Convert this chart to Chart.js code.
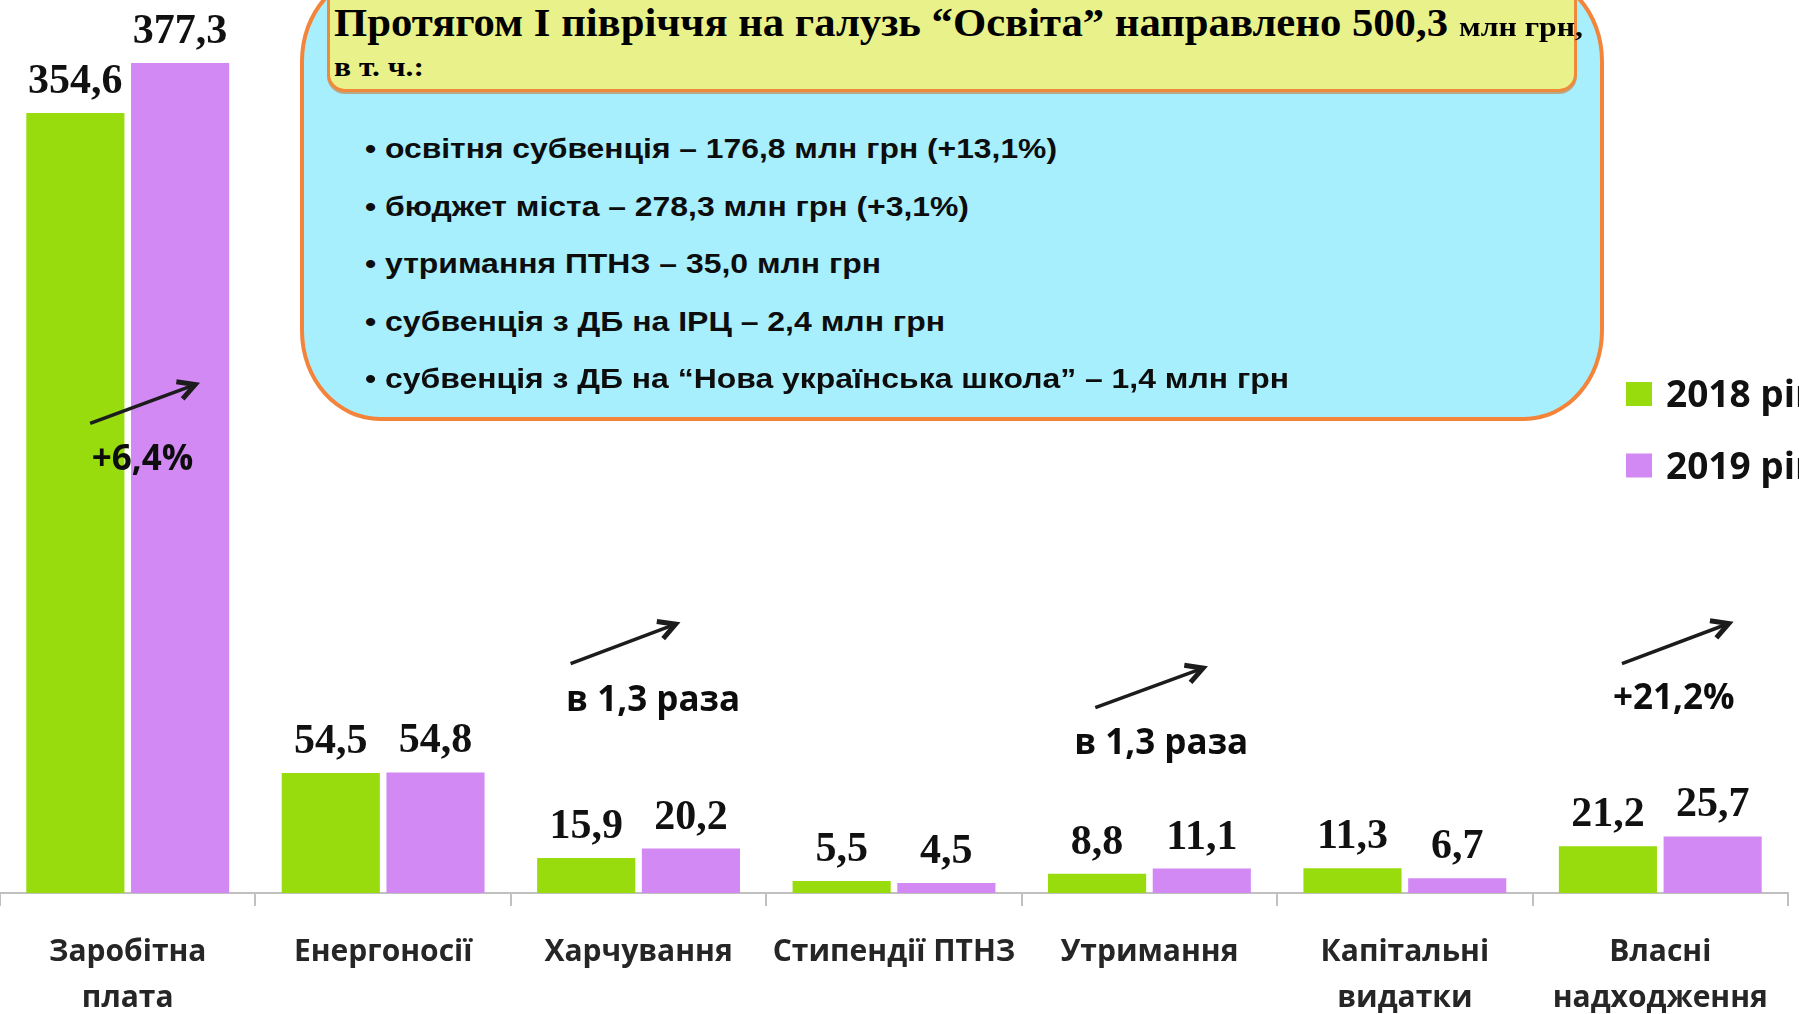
<!DOCTYPE html>
<html><head><meta charset="utf-8">
<script src="https://cdn.jsdelivr.net/npm/chart.js@4/dist/chart.umd.min.js"></script>
<style>
html,body{margin:0;padding:0;background:#fff;overflow:hidden;}
#wrap{position:relative;width:1799px;height:1014px;overflow:hidden;background:#fff;}
canvas{position:absolute;left:0;top:0;}
#box{position:absolute;left:300px;top:-29px;width:1304px;height:450px;box-sizing:border-box;border:4px solid #f3843a;border-radius:80px/90px;background:#a8effd;}
#ybox{position:absolute;left:327px;top:-20px;width:1250px;height:112px;box-sizing:border-box;border:3px solid #ef8a3a;border-radius:18px;background:#e9f18a;box-shadow:0 2px 0 rgba(200,100,30,0.5);}
.t{position:absolute;white-space:nowrap;line-height:1;transform-origin:0 0;color:#000;}
.serif{font-family:"Liberation Serif","Times New Roman",serif;font-weight:bold;}
.sans{font-family:"Liberation Sans",Arial,sans-serif;font-weight:bold;color:#0d0d0d;}
</style></head>
<body>
<div id="wrap">
<canvas id="c" width="1799" height="1014"></canvas>
<div id="box"></div>
<div id="ybox"></div>
<div id="texts"></div>
</div>
<script>
// ---- data ----
const categories = [['Заробітна','плата'], 'Енергоносії', 'Харчування', 'Стипендії ПТНЗ', 'Утримання', ['Капітальні','видатки'], ['Власні','надходження']];
const seriesNames = ['2018 рік', '2019 рік'];
const values2018 = [354.6, 54.5, 15.9, 5.5, 8.8, 11.3, 21.2];
const values2019 = [377.3, 54.8, 20.2, 4.5, 11.1, 6.7, 25.7];
const changeTexts = ['+6,4%', 'в 1,3 раза', 'в 1,3 раза', '+21,2%'];
const changeCategories = [0, 2, 4, 6];
const boxTitle = 'Протягом І півріччя на галузь “Освіта” направлено 500,3';
const boxTitleUnit = 'млн грн,';
const boxSubtitle = 'в т. ч.:';
const boxItems = [
  '• освітня субвенція – 176,8 млн грн (+13,1%)',
  '• бюджет міста – 278,3 млн грн (+3,1%)',
  '• утримання ПТНЗ – 35,0 млн грн',
  '• субвенція з ДБ на ІРЦ – 2,4 млн грн',
  '• субвенція з ДБ на “Нова українська школа” – 1,4 млн грн'
];

// ---- styles / layout ----
const colors = ['#98dc0e', '#d389f4'];
// annotation arrow placement (category fraction offset, y value)
const arrowLayout = [
  {from:[-0.147,213.5], to:[0.264,231.1], text:[0.058,192.3]},
  {from:[-0.266,104.3], to:[0.145,122.2], text:[0.057,82.8]},
  {from:[-0.212,84.3],  to:[0.210,102.2], text:[0.046,63.0]},
  {from:[-0.150,104.3], to:[0.268,122.5], text:[0.053,83.6]}
];

function fmt(v){ return v.toFixed(1).replace('.', ','); }

const valueLabels = {
  id:'valueLabels',
  afterDatasetsDraw(chart){
    const ctx = chart.ctx; ctx.save();
    ctx.font = 'bold 42px "Liberation Serif"';
    ctx.fillStyle = '#111'; ctx.textAlign = 'center'; ctx.textBaseline = 'alphabetic';
    chart.data.datasets.forEach((ds, di) => {
      chart.getDatasetMeta(di).data.forEach((bar, i) => {
        ctx.fillText(fmt(ds.data[i]), bar.x, bar.y - 20);
      });
    });
    ctx.restore();
  }
};

const changeArrows = {
  id:'changeArrows',
  afterDraw(chart){
    const ctx = chart.ctx, xs = chart.scales.x, ys = chart.scales.y;
    const cw = xs.getPixelForValue(1) - xs.getPixelForValue(0);
    ctx.save();
    changeCategories.forEach((c, k) => {
      const L = arrowLayout[k];
      const cx = xs.getPixelForValue(c);
      const x1 = cx + L.from[0]*cw, y1 = ys.getPixelForValue(L.from[1]);
      const x2 = cx + L.to[0]*cw, y2 = ys.getPixelForValue(L.to[1]);
      ctx.strokeStyle = '#1c1c1c'; ctx.lineWidth = 3.5; ctx.lineCap = 'butt';
      ctx.beginPath(); ctx.moveTo(x1, y1); ctx.lineTo(x2, y2); ctx.stroke();
      const a = Math.atan2(y2 - y1, x2 - x1), hl = 19, ha = 0.5;
      ctx.lineWidth = 5; ctx.lineJoin = 'miter';
      ctx.beginPath();
      ctx.moveTo(x2 - hl*Math.cos(a - ha), y2 - hl*Math.sin(a - ha));
      ctx.lineTo(x2, y2);
      ctx.lineTo(x2 - hl*Math.cos(a + ha), y2 - hl*Math.sin(a + ha));
      ctx.stroke();
      ctx.font = 'bold 35px "Open Sans"'; ctx.fillStyle = '#0d0d0d';
      ctx.textAlign = 'center'; ctx.textBaseline = 'alphabetic';
      ctx.fillText(changeTexts[k], cx + L.text[0]*cw, ys.getPixelForValue(L.text[1]));
    });
    ctx.restore();
  }
};

const sideLegend = {
  id:'sideLegend',
  afterDraw(chart){
    const ctx = chart.ctx; ctx.save();
    chart.data.datasets.forEach((ds, i) => {
      const y = 382 + i*71.5;
      ctx.fillStyle = ds.backgroundColor;
      ctx.fillRect(1626, y, 26, 24);
      ctx.font = 'bold 37px "Open Sans"'; ctx.fillStyle = '#111';
      ctx.textAlign = 'left'; ctx.textBaseline = 'alphabetic';
      ctx.fillText(ds.label, 1666, y + 25);
    });
    ctx.restore();
  }
};

new Chart(document.getElementById('c'), {
  type:'bar',
  data:{
    labels: categories,
    datasets:[
      {label: seriesNames[0], data: values2018, backgroundColor: colors[0]},
      {label: seriesNames[1], data: values2019, backgroundColor: colors[1]}
    ]
  },
  options:{
    responsive:false, animation:false,
    devicePixelRatio:1,
    layout:{padding:{top:13, left:0, right:11, bottom:0}},
    datasets:{bar:{categoryPercentage:0.82, barPercentage:0.937}},
    plugins:{legend:{display:false}, tooltip:{enabled:false}},
    scales:{
      x:{
        grid:{display:true, drawOnChartArea:false, drawTicks:true, tickLength:13, color:'#c0c0c0', lineWidth:2},
        border:{display:true, color:'#c0c0c0', width:2},
        ticks:{font:{family:'"Open Sans"', size:30, weight:'bold', lineHeight:1.53}, color:'#262626', padding:24, maxRotation:0, autoSkip:false},
        afterFit(s){ s.height = 121; }
      },
      y:{display:false, min:0, max:400}
    }
  },
  plugins:[valueLabels, changeArrows, sideLegend]
});

// ---- info box text ----
const texts = document.getElementById('texts');
function addText(str, cls, size, left, baseline, width){
  const k = cls === 'serif' ? 0.8375 : 0.8465;
  const s = document.createElement('span');
  s.className = 't ' + cls;
  s.textContent = str;
  s.style.fontSize = size + 'px';
  s.style.left = left + 'px';
  s.style.top = (baseline - k*size) + 'px';
  texts.appendChild(s);
  const w = s.getBoundingClientRect().width;
  if (w > 0) s.style.transform = 'scaleX(' + (width / w) + ')';
}
addText(boxTitle, 'serif', 40, 334, 36.7, 1114);
addText(boxTitleUnit, 'serif', 27, 1459, 36.7, 124);
addText(boxSubtitle, 'serif', 27, 334, 77, 90);
const itemWidths = [692, 604, 516, 580, 924];
boxItems.forEach((t, i) => addText(t, 'sans', 28, 365, 159 + i*57.5, itemWidths[i]));
</script>
</body></html>
